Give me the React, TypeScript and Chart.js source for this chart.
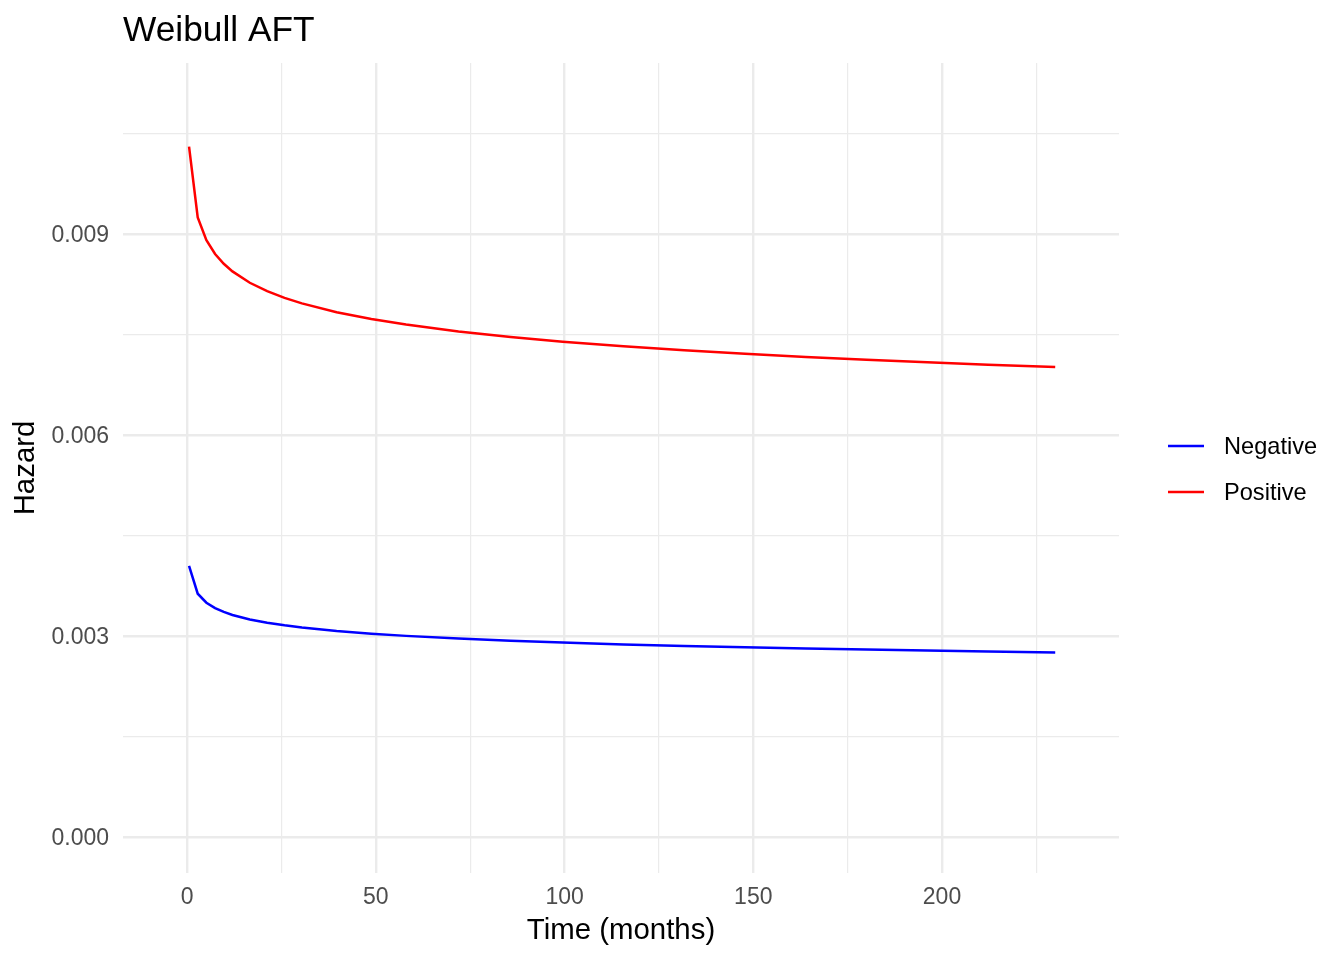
import React, { useRef, useEffect } from "react";
import { Chart, registerables } from "chart.js";

Chart.register(...registerables);

// time points (months)
const months = [
  0.5, 2.8, 5.1, 7.4, 9.7, 12, 16.6, 21.2, 25.8, 30.4, 39.6, 48.8, 58, 71.9,
  85.7, 99.5, 115.6, 131.7, 147.8, 163.9, 180, 196.1, 212.2, 230,
];

const negativeHazard = [
  0.004045, 0.003631, 0.003497, 0.003416, 0.003359, 0.003314, 0.003247,
  0.003198, 0.003159, 0.003127, 0.003075, 0.003035, 0.003002, 0.002962,
  0.00293, 0.002903, 0.002875, 0.002852, 0.002831, 0.002813, 0.002797,
  0.002782, 0.002768, 0.002754,
];

const positiveHazard = [
  0.010303, 0.009248, 0.008907, 0.008701, 0.008555, 0.008442, 0.008272,
  0.008146, 0.008046, 0.007964, 0.007833, 0.007731, 0.007648, 0.007545,
  0.007463, 0.007393, 0.007324, 0.007264, 0.007212, 0.007165, 0.007123,
  0.007085, 0.00705, 0.007016,
];

const xGrid = [0, 25, 50, 75, 100, 125, 150, 175, 200, 225];
const xLabels = [0, 50, 100, 150, 200];
const yGrid = [0, 0.0015, 0.003, 0.0045, 0.006, 0.0075, 0.009, 0.0105];
const yLabels = [0, 0.003, 0.006, 0.009];

const FONT = "'Liberation Sans', Arial, sans-serif";

const legendItems = [
  { label: "Negative", color: "#0000FF" },
  { label: "Positive", color: "#FF0000" },
];

const overlay = {
  id: "overlay",
  afterDraw(chart: Chart) {
    const ctx = chart.ctx;
    ctx.save();
    ctx.fillStyle = "#000000";
    ctx.font = `35.3px ${FONT}`;
    ctx.textAlign = "left";
    ctx.textBaseline = "alphabetic";
    ctx.fillText("Weibull AFT", chart.chartArea.left, 41);

    ctx.font = `23.6px ${FONT}`;
    ctx.textBaseline = "middle";
    legendItems.forEach((item, i) => {
      const y = 446 + i * 46;
      ctx.strokeStyle = item.color;
      ctx.lineWidth = 2.5;
      ctx.beginPath();
      ctx.moveTo(1168, y);
      ctx.lineTo(1204, y);
      ctx.stroke();
      ctx.fillStyle = "#000000";
      ctx.fillText(item.label, 1224, y + 1);
    });
    ctx.restore();
  },
};

const App = () => {
  const canvasRef = useRef<HTMLCanvasElement>(null);

  useEffect(() => {
    if (!canvasRef.current) return;
    const chart = new Chart(canvasRef.current, {
      type: "line",
      data: {
        datasets: [
          {
            label: "Negative",
            data: months.map((t, i) => ({ x: t, y: negativeHazard[i] })),
            borderColor: "#0000FF",
            borderWidth: 2.5,
            pointRadius: 0,
            tension: 0,
          },
          {
            label: "Positive",
            data: months.map((t, i) => ({ x: t, y: positiveHazard[i] })),
            borderColor: "#FF0000",
            borderWidth: 2.5,
            pointRadius: 0,
            tension: 0,
          },
        ],
      },
      options: {
        animation: false,
        responsive: true,
        maintainAspectRatio: false,
        layout: { padding: { top: 63, right: 225, left: 0, bottom: 0 } },
        plugins: {
          legend: { display: false },
          title: { display: false },
          tooltip: { enabled: false },
        },
        scales: {
          x: {
            type: "linear",
            min: -17,
            max: 246.9,
            afterFit: (scale: any) => {
              scale.height = 87;
            },
            afterBuildTicks: (scale: any) => {
              scale.ticks = xGrid.map((v) => ({ value: v }));
            },
            border: { display: false },
            grid: {
              color: "#EBEBEB",
              drawTicks: false,
              lineWidth: (c: any) =>
                xLabels.includes(c.tick?.value) ? 2.4 : 1.2,
            },
            ticks: {
              autoSkip: false,
              maxRotation: 0,
              padding: 11,
              color: "#4D4D4D",
              font: { family: FONT, size: 23 },
              callback: (v: any) => (xLabels.includes(v) ? String(v) : ""),
            },
            title: {
              display: true,
              text: "Time (months)",
              color: "#000000",
              font: { family: FONT, size: 29.4, lineHeight: 1 },
              padding: { top: 14, bottom: 14 },
            },
          },
          y: {
            min: -0.000537,
            max: 0.011552,
            afterFit: (scale: any) => {
              scale.width = 123;
            },
            afterBuildTicks: (scale: any) => {
              scale.ticks = yGrid.map((v) => ({ value: v }));
            },
            border: { display: false },
            grid: {
              color: "#EBEBEB",
              drawTicks: false,
              lineWidth: (c: any) =>
                yLabels.includes(c.tick?.value) ? 2.4 : 1.2,
            },
            ticks: {
              autoSkip: false,
              padding: 14,
              labelOffset: 2,
              color: "#4D4D4D",
              font: { family: FONT, size: 23 },
              callback: (v: any) => (yLabels.includes(v) ? v.toFixed(3) : ""),
            },
            title: {
              display: true,
              text: "Hazard",
              color: "#000000",
              font: { family: FONT, size: 29.4, lineHeight: 1 },
              padding: { top: 11, bottom: 11 },
            },
          },
        },
      },
      plugins: [overlay],
    });
    return () => {
      chart.destroy();
    };
  }, []);

  return (
    <div
      style={{
        position: "fixed",
        left: 0,
        top: 0,
        width: 1344,
        height: 960,
        background: "#FFFFFF",
      }}
    >
      <canvas ref={canvasRef} />
    </div>
  );
};

export default App;
